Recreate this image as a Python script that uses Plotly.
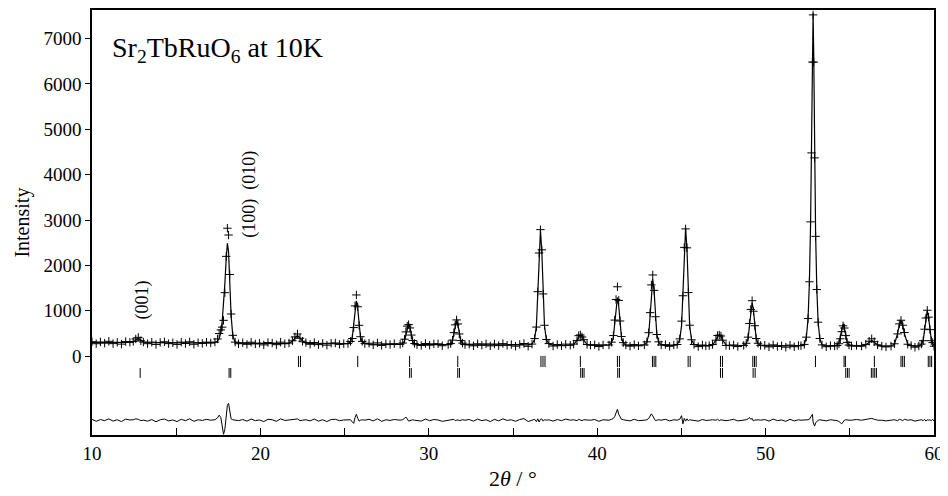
import plotly.graph_objects as go

# ------------- Data -------------

# 2theta grid (deg): baseline stretches and peak windows
two_theta = [
    10.0, 10.25, 10.5, 10.75, 11.0, 11.25, 11.5, 11.75, 12.0, 12.25,
    12.45, 12.6, 12.75, 12.9, 13.05,
    13.3, 13.55, 13.8, 14.05, 14.3, 14.55, 14.8, 15.05, 15.3, 15.55, 15.8, 16.05, 16.3, 16.55, 16.8, 17.05,
    17.3, 17.45, 17.55, 17.65, 17.73, 17.81, 17.89, 17.97, 18.04, 18.11, 18.18, 18.26, 18.36, 18.5, 18.7,
    18.95, 19.2, 19.45, 19.7, 19.95, 20.2, 20.45, 20.7, 20.95, 21.2, 21.45,
    21.7, 21.9, 22.05, 22.2, 22.35, 22.5, 22.7,
    22.95, 23.2, 23.45, 23.7, 23.95, 24.2, 24.45, 24.7, 24.95,
    25.2, 25.35, 25.46, 25.54, 25.62, 25.7, 25.78, 25.86, 25.94, 26.05, 26.2,
    26.45, 26.7, 26.95, 27.2, 27.45, 27.7, 27.95,
    28.3, 28.45, 28.56, 28.64, 28.72, 28.8, 28.88, 28.96, 29.04, 29.15, 29.3,
    29.55, 29.8, 30.05, 30.3, 30.55, 30.8,
    31.15, 31.3, 31.41, 31.49, 31.57, 31.65, 31.73, 31.81, 31.89, 32.0, 32.15,
    32.4, 32.65, 32.9, 33.15, 33.4, 33.65, 33.9, 34.15, 34.4, 34.65, 34.9, 35.15, 35.4, 35.65, 35.9,
    36.13, 36.28, 36.39, 36.47, 36.55, 36.63, 36.71, 36.79, 36.87, 36.98, 37.13,
    37.38, 37.63, 37.88, 38.13,
    38.4, 38.6, 38.8, 38.9, 39.0, 39.1, 39.2, 39.4, 39.6,
    39.85, 40.1, 40.35,
    40.7, 40.85, 40.96, 41.04, 41.12, 41.2, 41.28, 41.36, 41.44, 41.55, 41.7,
    41.95, 42.2, 42.45,
    42.8, 42.95, 43.06, 43.14, 43.22, 43.3, 43.38, 43.46, 43.54, 43.65, 43.8,
    44.05, 44.3, 44.55,
    44.75, 44.9, 45.01, 45.09, 45.17, 45.25, 45.33, 45.41, 45.49, 45.6, 45.75,
    46.0, 46.25, 46.45,
    46.65, 46.85, 47.05, 47.15, 47.25, 47.35, 47.45, 47.65, 47.85,
    48.1, 48.35,
    48.7, 48.85, 48.96, 49.04, 49.12, 49.2, 49.28, 49.36, 49.44, 49.55, 49.7,
    49.95, 50.2, 50.45, 50.7, 50.95, 51.2, 51.45, 51.7, 51.95, 52.1,
    52.3, 52.42, 52.52, 52.6, 52.67, 52.73, 52.78, 52.82, 52.86, 52.91, 52.97, 53.04, 53.12, 53.22, 53.35,
    53.6, 53.85,
    54.1, 54.25, 54.36, 54.44, 54.52, 54.6, 54.68, 54.76, 54.84, 54.95, 55.1,
    55.4,
    55.7, 55.95, 56.15, 56.3, 56.45, 56.65, 56.9,
    57.15,
    57.45, 57.65, 57.84, 57.94, 58.04, 58.14, 58.24, 58.44, 58.64,
    58.87,
    59.1, 59.25, 59.36, 59.44, 59.52, 59.6, 59.68, 59.76, 59.84, 59.92, 60.0,
]

# calculated profile
i_calc = [
    300, 300, 299, 298, 298, 297, 297, 296, 298, 302,
    315, 350, 395, 350, 312,
    296, 295, 294, 293, 293, 292, 291, 290, 290, 289, 288, 288, 287, 287, 290, 294,
    300, 330, 390, 520, 760, 1100, 1600, 2150, 2490, 2300, 1650, 900, 450, 310, 285,
    283, 282, 282, 281, 281, 280, 280, 279, 279, 279, 280,
    290, 330, 405, 460, 405, 330, 290,
    278, 276, 275, 274, 273, 272, 271, 271, 272,
    278, 316, 430, 701, 1049, 1220, 1049, 701, 430, 316, 278,
    266, 265, 264, 263, 262, 261, 261,
    262, 280, 335, 466, 633, 716, 633, 466, 335, 280, 262,
    256, 255, 254, 258, 268, 256,
    256, 278, 344, 500, 701, 800, 701, 500, 344, 278, 256,
    250, 249, 249, 252, 262, 258, 249, 248, 247, 247, 246, 246, 245, 245, 248,
    268, 369, 672, 1392, 2314, 2768, 2314, 1392, 672, 369, 268,
    244, 242, 241, 241,
    242, 258, 354, 433, 470, 433, 354, 258, 242,
    238, 238, 239,
    247, 289, 415, 716, 1100, 1290, 1100, 716, 415, 289, 247,
    237, 236, 238,
    248, 307, 478, 880, 1431, 1700, 1431, 880, 478, 307, 248,
    235, 234, 237,
    258, 362, 673, 1412, 2358, 2825, 2358, 1412, 673, 362, 258,
    232, 231, 232,
    234, 247, 353, 436, 475, 436, 353, 247, 234,
    228, 228,
    237, 275, 390, 662, 1011, 1183, 1011, 662, 390, 275, 237,
    226, 226, 225, 225, 225, 224, 224, 224, 226, 232,
    260, 420, 820, 1620, 2900, 4400, 6350, 7560, 6600, 4500, 2700, 1500, 750, 380, 250,
    224, 223,
    227, 246, 305, 444, 621, 709, 621, 444, 305, 246, 227,
    222,
    223, 250, 300, 344, 300, 250, 223,
    220,
    225, 264, 501, 692, 782, 692, 501, 264, 225,
    219,
    226, 257, 351, 575, 861, 1002, 861, 575, 351, 280, 240,
]

# observed minus calculated
i_diff = [
    20, -25, 15, -10, 30, -20, 10, -30, 25, 5,
    10, 30, 20, -10, 0,
    -20, 15, -35, 10, 25, -15, 5, -30, 20, -10, 30, -25, 10, -5, 20, 0,
    10, 50, 110, 60, -120, -310, -200, 50, 330, 370, 150, 30, 10, 0, -10,
    15, -20, 25, -10, 5, -30, 20, 10, -25, 30, -5,
    0, 10, 20, 30, -10, 0, 10,
    -15, 25, -20, 10, -30, 15, 20, -10, 5,
    0, 10, -40, -70, 60, 130, 40, -20, 0, 10, 0,
    20, -15, 30, -25, 10, -5, 15,
    0, 10, 40, 70, 30, -20, -10, 0, 10, 0, -10,
    -20, 25, -10, 15, 5, -25,
    0, 0, 10, 20, -10, 0, 10, -10, 0, 10, 0,
    15, -20, 25, -10, 10, -30, 20, -15, 30, -5, 10, -25, 15, 35, -30,
    0, 20, -30, 30, -40, 20, 30, -20, 10, 0, 10,
    -20, 15, -10, 25,
    0, 10, -10, 20, 0, -10, 10, 0, 0,
    15, -25, 10,
    0, 20, 40, 80, 150, 240, 130, 60, 20, 10, 0,
    -15, 20, -10,
    0, 10, 40, 80, 140, 90, 20, -10, 0, 10, 0,
    20, -15, 10,
    0, 20, 100, -80, 40, -20, 30, -10, 10, 0, 0,
    -20, 15, -5,
    0, 10, 0, 20, -10, 10, 0, -10, 0,
    20, -15,
    0, 10, 30, 60, 20, 40, -20, 10, 0, 10, 0,
    15, -20, 25, -10, 5, -25, 20, -15, 10, 0,
    0, 0, 10, 20, 60, 80, 130, -40, -120, -130, -60, -30, 0, 10, 0,
    -15, 10,
    0, -10, -30, -60, -80, -40, 0, 10, 0, 0, 0,
    15,
    0, 10, 30, 40, 20, 0, 0,
    -15,
    0, 10, -10, 20, 10, -10, 20, 0, 10,
    -20,
    0, 10, -10, 20, -20, 10, 0, 10, -10, 20, -20,
]

# reflection markers, upper and lower rows
refl_row1 = [22.26, 22.38, 25.78, 28.86, 31.72, 36.66, 36.78, 36.90, 39.00,
             41.20, 41.32, 43.28, 43.38, 43.48, 45.40, 45.52, 47.32, 47.44,
             49.24, 49.34, 49.44, 52.96, 54.66, 54.74, 56.46, 58.04, 58.14,
             58.24, 59.66, 59.76, 59.86]
refl_row2 = [12.86, 18.14, 18.24, 28.86, 28.96, 31.72, 31.82, 39.02, 39.12,
             39.22, 41.22, 41.32, 47.32, 47.44, 49.26, 49.38, 54.76, 54.86,
             54.96, 56.28, 56.38, 56.48, 56.58]

y_ticks = [0, 1000, 2000, 3000, 4000, 5000, 6000, 7000]
x_ticks = [10, 20, 30, 40, 50, 60]

assert len(two_theta) == len(i_calc) == len(i_diff)

# ------------- Derived series -------------

DIFF_OFFSET = -1410
ROW1_Y = -116
ROW2_Y = -368

i_obs = [c + d for c, d in zip(i_calc, i_diff)]
diff_shifted = [d + DIFF_OFFSET for d in i_diff]

FONT = "Liberation Serif"

fig = go.Figure()

fig.add_trace(go.Scatter(
    x=two_theta, y=i_obs, mode="markers",
    marker=dict(symbol="cross-thin", size=6, line=dict(color="black", width=1)),
))
fig.add_trace(go.Scatter(
    x=two_theta, y=i_calc, mode="lines",
    line=dict(color="black", width=1.2),
))
fig.add_trace(go.Scatter(
    x=two_theta, y=diff_shifted, mode="lines",
    line=dict(color="black", width=1),
))
fig.add_trace(go.Scatter(
    x=refl_row1, y=[ROW1_Y] * len(refl_row1), mode="markers",
    marker=dict(symbol="line-ns", size=8, line=dict(color="black", width=1)),
))
fig.add_trace(go.Scatter(
    x=refl_row2, y=[ROW2_Y] * len(refl_row2), mode="markers",
    marker=dict(symbol="line-ns", size=7, line=dict(color="black", width=1)),
))

# labels
fig.add_annotation(
    x=11.05, y=6760, xref="x", yref="y", xanchor="left", yanchor="middle",
    text="Sr<sub>2</sub>TbRuO<sub>6</sub> at 10K", showarrow=False,
    font=dict(family=FONT, size=28, color="black"),
)
fig.add_annotation(
    x=13.0, y=1240, xref="x", yref="y", text="(001)", textangle=-90,
    xanchor="center", yanchor="middle",
    showarrow=False, font=dict(family=FONT, size=18, color="black"),
)
fig.add_annotation(
    x=19.35, y=3570, xref="x", yref="y", text="(100)  (010)", textangle=-90,
    xanchor="center", yanchor="middle",
    showarrow=False, font=dict(family=FONT, size=18, color="black"),
)
fig.add_annotation(
    x=-0.083, y=0.5, xref="paper", yref="paper", text="Intensity", textangle=-90,
    xanchor="center", yanchor="middle",
    showarrow=False, font=dict(family=FONT, size=20, color="black"),
)
fig.add_annotation(
    x=0.5, y=-0.103, xref="paper", yref="paper", text="2<i>θ</i> / °",
    xanchor="center", yanchor="middle",
    showarrow=False, font=dict(family=FONT, size=22, color="black"),
)

fig.update_xaxes(
    range=[10, 60], tickvals=x_ticks, ticks="inside", ticklen=7, tickwidth=1,
    minor=dict(dtick=5, ticks="inside", ticklen=7, tickwidth=1, tickcolor="black"),
    showline=True, linecolor="black", linewidth=1.5, mirror=True,
    showgrid=False, zeroline=False, tickcolor="black",
    tickfont=dict(family=FONT, size=19, color="black"),
)
fig.update_yaxes(
    range=[-1736, 7628], tickvals=y_ticks, ticks="outside", ticklen=5, tickwidth=1,
    showline=True, linecolor="black", linewidth=1.5, mirror=True,
    showgrid=False, zeroline=False, tickcolor="black",
    tickfont=dict(family=FONT, size=19, color="black"),
)
# page body adds an 8px margin at left/top, so the plot box is shifted by 8px
fig.update_layout(
    width=948, height=488,
    margin=dict(l=84, r=22, t=0, b=61),
    paper_bgcolor="white", plot_bgcolor="white",
    showlegend=False,
)

fig.write_html("out.html")
